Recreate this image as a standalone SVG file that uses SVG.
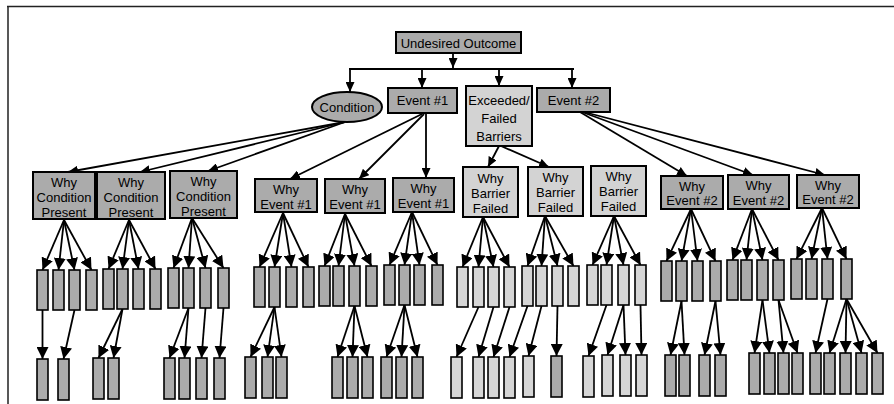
<svg xmlns="http://www.w3.org/2000/svg" width="894" height="404" viewBox="0 0 894 404">
<style>
.d{fill:#ababab;stroke:#000;stroke-width:2}
.l{fill:#d3d3d3;stroke:#000;stroke-width:2}
.s{fill:#ababab;stroke:#000;stroke-width:1.6}
.sl{fill:#d6d6d6;stroke:#000;stroke-width:1.6}
.t{font-family:"Liberation Sans",Arial,sans-serif;font-size:13px;text-anchor:middle;fill:#000}
.c line{stroke:#000;stroke-width:1.8}
.c .u{marker-end:url(#ahs)}
.c .a{marker-end:url(#ah)}
.frame{stroke:#222;stroke-width:1.5;fill:none}
</style>
<defs>
<marker id="ah" viewBox="0 0 12 12" refX="12" refY="6" markerUnits="userSpaceOnUse" markerWidth="12" markerHeight="12" orient="auto"><path d="M0,0 L12,6 L0,12 z" fill="#000"/></marker>
<marker id="ahs" viewBox="0 0 10 9" refX="10" refY="4.5" markerUnits="userSpaceOnUse" markerWidth="10" markerHeight="9" orient="auto"><path d="M0,0 L10,4.5 L0,9 z" fill="#000"/></marker>
</defs>
<rect width="894" height="404" fill="#fff"/>
<path class="frame" d="M7,6.5 H894 M8,6 V404"/>

<g id="connectors" class="c">
<line class="u" x1="453" y1="53" x2="453" y2="68"/>
<line x1="349" y1="69" x2="574" y2="69"/>
<line class="u" x1="350" y1="69" x2="350" y2="92"/>
<line class="u" x1="422" y1="69" x2="422" y2="88"/>
<line class="u" x1="499" y1="69" x2="499" y2="86"/>
<line class="u" x1="572" y1="69" x2="572" y2="88"/>
<line class="u" x1="345" y1="122" x2="68" y2="172"/>
<line class="u" x1="345" y1="122" x2="140" y2="172"/>
<line class="u" x1="345" y1="122" x2="208" y2="171"/>
<line class="u" x1="422" y1="114" x2="290" y2="179"/>
<line class="u" x1="424" y1="114" x2="359" y2="179"/>
<line class="u" x1="426" y1="114" x2="426" y2="178"/>
<line class="u" x1="499" y1="146" x2="488" y2="167"/>
<line class="u" x1="501" y1="146" x2="549" y2="167"/>
<line class="u" x1="580" y1="112" x2="687" y2="176"/>
<line class="u" x1="582" y1="112" x2="753" y2="175"/>
<line class="u" x1="584" y1="112" x2="825" y2="175"/>
<!-- level 3 to row 1 -->
<line class="a" x1="64" y1="220" x2="42.5" y2="270"/>
<line class="a" x1="64" y1="220" x2="58.5" y2="270"/>
<line class="a" x1="64" y1="220" x2="74.5" y2="270"/>
<line class="a" x1="64" y1="220" x2="91.5" y2="270"/>
<line class="a" x1="129" y1="220" x2="108.5" y2="269"/>
<line class="a" x1="129" y1="220" x2="122.5" y2="269"/>
<line class="a" x1="129" y1="220" x2="138.5" y2="269"/>
<line class="a" x1="129" y1="220" x2="155.5" y2="269"/>
<line class="a" x1="192" y1="218" x2="173.5" y2="268"/>
<line class="a" x1="192" y1="218" x2="188.5" y2="268"/>
<line class="a" x1="192" y1="218" x2="205.5" y2="268"/>
<line class="a" x1="192" y1="218" x2="223.5" y2="268"/>
<line class="a" x1="283" y1="213" x2="259.5" y2="267"/>
<line class="a" x1="283" y1="213" x2="274.5" y2="267"/>
<line class="a" x1="283" y1="213" x2="291.5" y2="267"/>
<line class="a" x1="283" y1="213" x2="308.5" y2="267"/>
<line class="a" x1="345" y1="214" x2="324.5" y2="266"/>
<line class="a" x1="345" y1="214" x2="338.5" y2="266"/>
<line class="a" x1="345" y1="214" x2="354.5" y2="266"/>
<line class="a" x1="345" y1="214" x2="371.5" y2="266"/>
<line class="a" x1="412" y1="212" x2="389.5" y2="265"/>
<line class="a" x1="412" y1="212" x2="404.5" y2="265"/>
<line class="a" x1="412" y1="212" x2="419.5" y2="265"/>
<line class="a" x1="412" y1="212" x2="437.5" y2="265"/>
<line class="a" x1="483" y1="217" x2="462.5" y2="267"/>
<line class="a" x1="483" y1="217" x2="478.5" y2="267"/>
<line class="a" x1="483" y1="217" x2="493.5" y2="267"/>
<line class="a" x1="483" y1="217" x2="509.5" y2="267"/>
<line class="a" x1="545" y1="216" x2="527.5" y2="266"/>
<line class="a" x1="545" y1="216" x2="541.5" y2="266"/>
<line class="a" x1="545" y1="216" x2="557.5" y2="266"/>
<line class="a" x1="545" y1="216" x2="573.5" y2="266"/>
<line class="a" x1="614" y1="216" x2="592.5" y2="265"/>
<line class="a" x1="614" y1="216" x2="606.5" y2="265"/>
<line class="a" x1="614" y1="216" x2="623.5" y2="265"/>
<line class="a" x1="614" y1="216" x2="640.5" y2="265"/>
<line class="a" x1="691" y1="209" x2="666.5" y2="261"/>
<line class="a" x1="691" y1="209" x2="681.5" y2="261"/>
<line class="a" x1="691" y1="209" x2="697.5" y2="261"/>
<line class="a" x1="691" y1="209" x2="715.5" y2="261"/>
<line class="a" x1="752" y1="209" x2="732.5" y2="260"/>
<line class="a" x1="752" y1="209" x2="746.5" y2="260"/>
<line class="a" x1="752" y1="209" x2="762.5" y2="260"/>
<line class="a" x1="752" y1="209" x2="778.5" y2="260"/>
<line class="a" x1="822" y1="208" x2="796.5" y2="259"/>
<line class="a" x1="822" y1="208" x2="811.5" y2="259"/>
<line class="a" x1="822" y1="208" x2="827.5" y2="259"/>
<line class="a" x1="822" y1="208" x2="846.5" y2="259"/>
<!-- row 1 to row 2 -->
<line class="a" x1="42.5" y1="310" x2="42.5" y2="359"/>
<line class="a" x1="74.5" y1="310" x2="63.5" y2="359"/>
<line class="a" x1="122.5" y1="309" x2="98.5" y2="358"/>
<line class="a" x1="122.5" y1="309" x2="113.5" y2="358"/>
<line class="a" x1="188.5" y1="308" x2="169.5" y2="358"/>
<line class="a" x1="188.5" y1="308" x2="184.5" y2="358"/>
<line class="a" x1="205.5" y1="308" x2="201.5" y2="358"/>
<line class="a" x1="223.5" y1="308" x2="219.5" y2="358"/>
<line class="a" x1="274.5" y1="307" x2="250.5" y2="357"/>
<line class="a" x1="274.5" y1="307" x2="267.5" y2="357"/>
<line class="a" x1="274.5" y1="307" x2="281.5" y2="357"/>
<line class="a" x1="354.5" y1="306" x2="337.5" y2="357"/>
<line class="a" x1="354.5" y1="306" x2="352.5" y2="357"/>
<line class="a" x1="354.5" y1="306" x2="367.5" y2="357"/>
<line class="a" x1="404.5" y1="305" x2="386.5" y2="357"/>
<line class="a" x1="404.5" y1="305" x2="401.5" y2="357"/>
<line class="a" x1="404.5" y1="305" x2="417.5" y2="357"/>
<line class="a" x1="478.5" y1="307" x2="456.5" y2="357"/>
<line class="a" x1="493.5" y1="307" x2="478.5" y2="357"/>
<line class="a" x1="509.5" y1="307" x2="493.5" y2="357"/>
<line class="a" x1="527.5" y1="306" x2="509.5" y2="357"/>
<line class="a" x1="541.5" y1="306" x2="528.5" y2="356"/>
<line class="a" x1="557.5" y1="306" x2="556.5" y2="356"/>
<line class="a" x1="606.5" y1="305" x2="588.5" y2="356"/>
<line class="a" x1="623.5" y1="305" x2="607.5" y2="355"/>
<line class="a" x1="623.5" y1="305" x2="625.5" y2="355"/>
<line class="a" x1="640.5" y1="305" x2="641.5" y2="355"/>
<line class="a" x1="681.5" y1="301" x2="670.5" y2="355"/>
<line class="a" x1="681.5" y1="301" x2="684.5" y2="355"/>
<line class="a" x1="715.5" y1="301" x2="704.5" y2="355"/>
<line class="a" x1="715.5" y1="301" x2="720.5" y2="355"/>
<line class="a" x1="762.5" y1="300" x2="754.5" y2="353"/>
<line class="a" x1="762.5" y1="300" x2="769.5" y2="353"/>
<line class="a" x1="778.5" y1="300" x2="783.5" y2="353"/>
<line class="a" x1="778.5" y1="300" x2="797.5" y2="353"/>
<line class="a" x1="827.5" y1="299" x2="815.5" y2="353"/>
<line class="a" x1="846.5" y1="299" x2="829.5" y2="353"/>
<line class="a" x1="846.5" y1="299" x2="845.5" y2="353"/>
<line class="a" x1="846.5" y1="299" x2="861.5" y2="353"/>
<line class="a" x1="846.5" y1="299" x2="877.5" y2="353"/>
</g>

<g id="undesired-outcome"><rect class="d" x="396" y="32" width="125" height="21"/><text class="t" x="458.5" y="47.5">Undesired Outcome</text></g>
<g id="condition"><ellipse class="d" cx="347" cy="107" rx="35" ry="15"/><text class="t" x="347" y="111.5">Condition</text></g>
<g id="event1"><rect class="d" x="388" y="88" width="69" height="25"/><text class="t" x="422.5" y="105">Event #1</text></g>
<g id="exceeded"><rect class="l" x="466" y="86" width="66" height="60"/><text class="t" x="499" y="104.5">Exceeded/</text><text class="t" x="499" y="122.5">Failed</text><text class="t" x="499" y="141">Barriers</text></g>
<g id="event2"><rect class="d" x="537" y="88" width="73" height="24"/><text class="t" x="573.5" y="104.5">Event #2</text></g>

<g id="why-condition-1"><rect class="d" x="33" y="172" width="62" height="47"/><text class="t" x="64" y="186.5">Why</text><text class="t" x="64" y="201.5">Condition</text><text class="t" x="64" y="216.5">Present</text></g>
<g id="why-condition-2"><rect class="d" x="97" y="172" width="68" height="47"/><text class="t" x="131" y="186.5">Why</text><text class="t" x="131" y="201.5">Condition</text><text class="t" x="131" y="216.5">Present</text></g>
<g id="why-condition-3"><rect class="d" x="170" y="171" width="67" height="47"/><text class="t" x="203.5" y="185.5">Why</text><text class="t" x="203.5" y="200.5">Condition</text><text class="t" x="203.5" y="215.5">Present</text></g>
<g id="why-event1-1"><rect class="d" x="255" y="179" width="62" height="33"/><text class="t" x="286" y="193.5">Why</text><text class="t" x="286" y="208.5">Event #1</text></g>
<g id="why-event1-2"><rect class="d" x="325" y="179" width="60" height="34"/><text class="t" x="355" y="193.5">Why</text><text class="t" x="355" y="209">Event #1</text></g>
<g id="why-event1-3"><rect class="d" x="393" y="178" width="61" height="34"/><text class="t" x="423.5" y="192.5">Why</text><text class="t" x="423.5" y="208">Event #1</text></g>
<g id="why-barrier-1"><rect class="l" x="463" y="167" width="55" height="50"/><text class="t" x="490.5" y="182.5">Why</text><text class="t" x="490.5" y="197.5">Barrier</text><text class="t" x="490.5" y="212.5">Failed</text></g>
<g id="why-barrier-2"><rect class="l" x="528" y="167" width="55" height="49"/><text class="t" x="555.5" y="182">Why</text><text class="t" x="555.5" y="197">Barrier</text><text class="t" x="555.5" y="212">Failed</text></g>
<g id="why-barrier-3"><rect class="l" x="591" y="166" width="55" height="50"/><text class="t" x="618.5" y="181">Why</text><text class="t" x="618.5" y="196">Barrier</text><text class="t" x="618.5" y="211">Failed</text></g>
<g id="why-event2-1"><rect class="d" x="661" y="176" width="62" height="33"/><text class="t" x="692" y="190.5">Why</text><text class="t" x="692" y="205">Event #2</text></g>
<g id="why-event2-2"><rect class="d" x="728" y="175" width="61" height="34"/><text class="t" x="758.5" y="189.5">Why</text><text class="t" x="758.5" y="204.5">Event #2</text></g>
<g id="why-event2-3"><rect class="d" x="797" y="175" width="62" height="33"/><text class="t" x="828" y="189.5">Why</text><text class="t" x="828" y="204">Event #2</text></g>

<g id="row1">
<g id="r1-g1"><rect class="s" x="37" y="270" width="11" height="40"/><rect class="s" x="53" y="270" width="11" height="40"/><rect class="s" x="69" y="270" width="11" height="40"/><rect class="s" x="86" y="270" width="11" height="40"/></g>
<g id="r1-g2"><rect class="s" x="103" y="269" width="11" height="40"/><rect class="s" x="117" y="269" width="11" height="40"/><rect class="s" x="133" y="269" width="11" height="40"/><rect class="s" x="150" y="269" width="11" height="40"/></g>
<g id="r1-g3"><rect class="s" x="168" y="268" width="11" height="40"/><rect class="s" x="183" y="268" width="11" height="40"/><rect class="s" x="200" y="268" width="11" height="40"/><rect class="s" x="218" y="268" width="11" height="40"/></g>
<g id="r1-g4"><rect class="s" x="254" y="267" width="11" height="40"/><rect class="s" x="269" y="267" width="11" height="40"/><rect class="s" x="286" y="267" width="11" height="40"/><rect class="s" x="303" y="267" width="11" height="40"/></g>
<g id="r1-g5"><rect class="s" x="319" y="266" width="11" height="40"/><rect class="s" x="333" y="266" width="11" height="40"/><rect class="s" x="349" y="266" width="11" height="40"/><rect class="s" x="366" y="266" width="11" height="40"/></g>
<g id="r1-g6"><rect class="s" x="384" y="265" width="11" height="40"/><rect class="s" x="399" y="265" width="11" height="40"/><rect class="s" x="414" y="265" width="11" height="40"/><rect class="s" x="432" y="265" width="11" height="40"/></g>
<g id="r1-g7"><rect class="sl" x="457" y="267" width="11" height="40"/><rect class="sl" x="473" y="267" width="11" height="40"/><rect class="sl" x="488" y="267" width="11" height="40"/><rect class="sl" x="504" y="267" width="11" height="40"/></g>
<g id="r1-g8"><rect class="sl" x="522" y="266" width="11" height="40"/><rect class="sl" x="536" y="266" width="11" height="40"/><rect class="sl" x="552" y="266" width="11" height="40"/><rect class="sl" x="568" y="266" width="11" height="40"/></g>
<g id="r1-g9"><rect class="sl" x="587" y="265" width="11" height="40"/><rect class="sl" x="601" y="265" width="11" height="40"/><rect class="sl" x="618" y="265" width="11" height="40"/><rect class="sl" x="635" y="265" width="11" height="40"/></g>
<g id="r1-g10"><rect class="s" x="661" y="261" width="11" height="40"/><rect class="s" x="676" y="261" width="11" height="40"/><rect class="s" x="692" y="261" width="11" height="40"/><rect class="s" x="710" y="261" width="11" height="40"/></g>
<g id="r1-g11"><rect class="s" x="727" y="260" width="11" height="40"/><rect class="s" x="741" y="260" width="11" height="40"/><rect class="s" x="757" y="260" width="11" height="40"/><rect class="s" x="773" y="260" width="11" height="40"/></g>
<g id="r1-g12"><rect class="s" x="791" y="259" width="11" height="40"/><rect class="s" x="806" y="259" width="11" height="40"/><rect class="s" x="822" y="259" width="11" height="40"/><rect class="s" x="841" y="259" width="11" height="40"/></g>
</g>

<g id="row2">
<rect class="s" x="37" y="359" width="11" height="41"/><rect class="s" x="58" y="359" width="11" height="41"/>
<rect class="s" x="93" y="358" width="11" height="41"/><rect class="s" x="108" y="358" width="11" height="41"/>
<rect class="s" x="164" y="358" width="11" height="41"/><rect class="s" x="179" y="358" width="11" height="41"/><rect class="s" x="196" y="358" width="11" height="41"/><rect class="s" x="214" y="358" width="11" height="41"/>
<rect class="s" x="245" y="357" width="11" height="41"/><rect class="s" x="262" y="357" width="11" height="41"/><rect class="s" x="276" y="357" width="11" height="41"/>
<rect class="s" x="332" y="357" width="11" height="41"/><rect class="s" x="347" y="357" width="11" height="41"/><rect class="s" x="362" y="357" width="11" height="41"/>
<rect class="s" x="381" y="357" width="11" height="41"/><rect class="s" x="396" y="357" width="11" height="41"/><rect class="s" x="412" y="357" width="11" height="41"/>
<rect class="sl" x="451" y="357" width="11" height="41"/><rect class="sl" x="473" y="357" width="11" height="41"/><rect class="sl" x="488" y="357" width="11" height="41"/><rect class="sl" x="504" y="357" width="11" height="41"/><rect class="sl" x="523" y="356" width="11" height="41"/>
<rect class="s" x="551" y="356" width="11" height="41"/>
<rect class="sl" x="583" y="356" width="11" height="41"/><rect class="sl" x="602" y="355" width="11" height="41"/><rect class="sl" x="620" y="355" width="11" height="41"/><rect class="sl" x="636" y="355" width="11" height="41"/>
<rect class="s" x="665" y="355" width="11" height="41"/><rect class="s" x="679" y="355" width="11" height="41"/><rect class="s" x="699" y="355" width="11" height="41"/><rect class="s" x="715" y="355" width="11" height="41"/>
<rect class="s" x="749" y="353" width="11" height="41"/><rect class="s" x="764" y="353" width="11" height="41"/><rect class="s" x="778" y="353" width="11" height="41"/><rect class="s" x="792" y="353" width="11" height="41"/>
<rect class="s" x="810" y="353" width="11" height="41"/><rect class="s" x="824" y="353" width="11" height="41"/><rect class="s" x="840" y="353" width="11" height="41"/><rect class="s" x="856" y="353" width="11" height="41"/><rect class="s" x="872" y="353" width="11" height="41"/>
</g>
</svg>
